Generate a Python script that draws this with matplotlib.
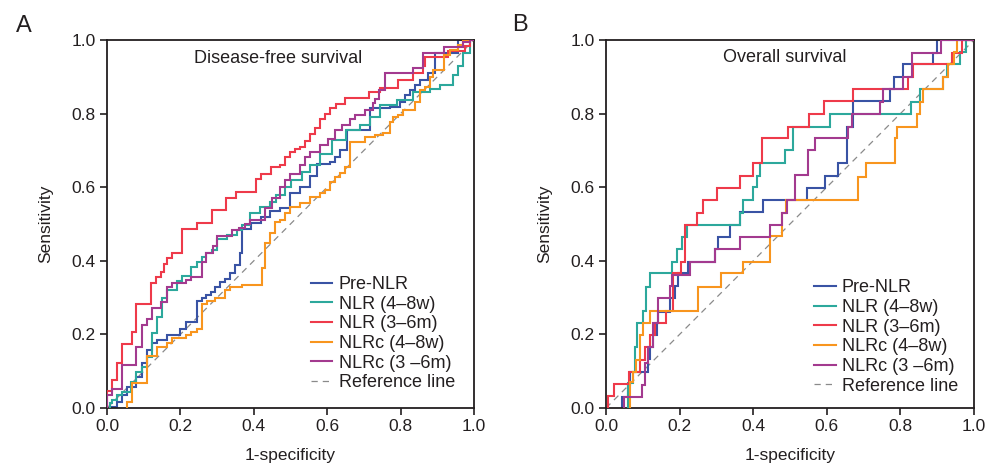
import matplotlib
matplotlib.use("Agg")
import matplotlib.pyplot as plt
from matplotlib.lines import Line2D

plt.rcParams['font.family'] = ['Liberation Sans', 'DejaVu Sans']
TXT = '#231f20'

# ---------------- data ----------------
series_names = ["Pre-NLR", "NLR (4\u20138w)", "NLR (3\u20136m)", "NLRc (4\u20138w)", "NLRc (3 \u20136m)"]
series_colors = ["#3953a4", "#2ca89c", "#ee3a4a", "#f8951e", "#a33a8f"]
ticks = [0.0, 0.2, 0.4, 0.6, 0.8, 1.0]
tick_labels = ["0.0", "0.2", "0.4", "0.6", "0.8", "1.0"]
panel_titles = ["Disease-free survival", "Overall survival"]
panel_letters = ["A", "B"]

# Panel A (disease-free survival): ROC staircase corners (fpr, tpr)
dfs_pre_fpr = [0.0136, 0.0136, 0.026, 0.040, 0.0536, 0.079, 0.0945, 0.108, 0.122, 0.135, 0.163, 0.199, 0.215, 0.2443, 0.258, 0.27, 0.2835, 0.2943, 0.308, 0.3215, 0.335, 0.349, 0.3624, 0.367, 0.392, 0.419, 0.444, 0.4714, 0.499, 0.526, 0.553, 0.571, 0.608, 0.621, 0.635, 0.653, 0.717, 0.771, 0.799, 0.8126, 0.826, 0.839, 0.853, 0.876, 0.894, 0.957, 1.0]
dfs_pre_tpr = [0.0, 0.004, 0.017, 0.035, 0.058, 0.085, 0.123, 0.158, 0.176, 0.185, 0.199, 0.216, 0.235, 0.292, 0.298, 0.307, 0.316, 0.33, 0.343, 0.35, 0.366, 0.389, 0.42, 0.486, 0.502, 0.52, 0.534, 0.543, 0.585, 0.60, 0.63, 0.664, 0.668, 0.682, 0.70, 0.755, 0.814, 0.818, 0.832, 0.85, 0.864, 0.877, 0.891, 0.909, 0.966, 1.0, 1.0]

dfs_nlr48_fpr = [0.008, 0.008, 0.0136, 0.026, 0.040, 0.0645, 0.079, 0.0945, 0.108, 0.1217, 0.135, 0.149, 0.163, 0.19, 0.2035, 0.228, 0.2443, 0.258, 0.27, 0.2852, 0.299, 0.326, 0.353, 0.367, 0.39, 0.417, 0.444, 0.46, 0.485, 0.50, 0.53, 0.553, 0.58, 0.612, 0.65, 0.689, 0.717, 0.744, 0.79, 0.835, 0.88, 0.908, 0.944, 0.957, 0.971, 0.99, 1.0]
dfs_nlr48_tpr = [0.0, 0.013, 0.021, 0.035, 0.044, 0.07, 0.099, 0.112, 0.139, 0.203, 0.246, 0.298, 0.322, 0.346, 0.36, 0.382, 0.398, 0.41, 0.42, 0.429, 0.458, 0.471, 0.484, 0.497, 0.53, 0.547, 0.56, 0.58, 0.60, 0.62, 0.64, 0.66, 0.69, 0.728, 0.755, 0.769, 0.792, 0.823, 0.837, 0.859, 0.868, 0.877, 0.905, 0.928, 0.964, 1.0, 1.0]

dfs_nlr36_fpr = [0.0, 0.0, 0.0136, 0.026, 0.040, 0.067, 0.079, 0.119, 0.133, 0.147, 0.155, 0.163, 0.176, 0.2035, 0.244, 0.2853, 0.3243, 0.3515, 0.406, 0.419, 0.446, 0.4714, 0.485, 0.499, 0.512, 0.526, 0.54, 0.553, 0.567, 0.58, 0.594, 0.608, 0.624, 0.649, 0.715, 0.744, 0.794, 0.835, 0.862, 0.866, 0.93, 0.975, 0.99, 1.0]
dfs_nlr36_tpr = [0.0, 0.045, 0.076, 0.121, 0.174, 0.207, 0.283, 0.34, 0.355, 0.37, 0.39, 0.407, 0.42, 0.486, 0.504, 0.538, 0.571, 0.588, 0.621, 0.636, 0.654, 0.66, 0.683, 0.695, 0.703, 0.71, 0.726, 0.744, 0.76, 0.785, 0.799, 0.815, 0.826, 0.842, 0.86, 0.869, 0.891, 0.911, 0.928, 0.955, 0.97, 0.985, 1.0, 1.0]

dfs_nlrc48_fpr = [0.0536, 0.0536, 0.067, 0.108, 0.135, 0.163, 0.176, 0.215, 0.228, 0.2443, 0.258, 0.272, 0.294, 0.3215, 0.335, 0.367, 0.4214, 0.4305, 0.4441, 0.4578, 0.4714, 0.485, 0.499, 0.526, 0.553, 0.58, 0.594, 0.608, 0.621, 0.635, 0.649, 0.662, 0.703, 0.73, 0.753, 0.771, 0.78, 0.794, 0.807, 0.839, 0.853, 0.866, 0.88, 0.889, 0.917, 0.935, 0.957, 0.971, 1.0]
dfs_nlrc48_tpr = [0.0, 0.017, 0.0685, 0.141, 0.166, 0.177, 0.189, 0.198, 0.207, 0.216, 0.283, 0.292, 0.298, 0.321, 0.328, 0.335, 0.38, 0.4475, 0.475, 0.506, 0.511, 0.529, 0.547, 0.556, 0.574, 0.583, 0.592, 0.615, 0.629, 0.638, 0.656, 0.724, 0.737, 0.742, 0.746, 0.778, 0.79, 0.796, 0.81, 0.832, 0.864, 0.873, 0.90, 0.918, 0.959, 0.973, 0.986, 1.0, 1.0]

dfs_nlrc36_fpr = [0.0, 0.0, 0.0136, 0.040, 0.079, 0.0945, 0.108, 0.1217, 0.147, 0.163, 0.1762, 0.215, 0.228, 0.258, 0.27, 0.29, 0.299, 0.34, 0.36, 0.375, 0.39, 0.4305, 0.45, 0.471, 0.485, 0.499, 0.526, 0.54, 0.553, 0.58, 0.603, 0.621, 0.64, 0.662, 0.676, 0.703, 0.726, 0.73, 0.74, 0.757, 0.835, 0.862, 0.917, 0.971, 0.99, 1.0]
dfs_nlrc36_tpr = [0.0, 0.035, 0.051, 0.117, 0.166, 0.225, 0.241, 0.273, 0.289, 0.328, 0.34, 0.347, 0.355, 0.396, 0.42, 0.44, 0.468, 0.484, 0.49, 0.50, 0.511, 0.543, 0.57, 0.601, 0.619, 0.637, 0.66, 0.683, 0.696, 0.715, 0.732, 0.755, 0.77, 0.784, 0.796, 0.81, 0.828, 0.841, 0.864, 0.909, 0.923, 0.964, 0.982, 0.995, 1.0, 1.0]

# Panel B (overall survival)
os_pre_fpr = [0.043, 0.043, 0.06, 0.064, 0.115, 0.1196, 0.1286, 0.1377, 0.1422, 0.174, 0.1875, 0.1966, 0.2237, 0.296, 0.3053, 0.337, 0.364, 0.4275, 0.545, 0.595, 0.631, 0.6558, 0.672, 0.7717, 0.7826, 0.808, 0.8895, 0.8986, 1.0]
os_pre_tpr = [0.0, 0.031, 0.0625, 0.099, 0.133, 0.167, 0.198, 0.23, 0.262, 0.298, 0.332, 0.366, 0.397, 0.431, 0.466, 0.497, 0.533, 0.565, 0.597, 0.63, 0.665, 0.764, 0.834, 0.866, 0.90, 0.935, 0.966, 1.0, 1.0]

os_nlr48_fpr = [0.06, 0.06, 0.0734, 0.0779, 0.085, 0.1005, 0.1096, 0.1205, 0.1784, 0.192, 0.2056, 0.2192, 0.364, 0.373, 0.40, 0.41, 0.4185, 0.486, 0.509, 0.609, 0.83, 0.853, 0.917, 0.926, 0.962, 0.978, 1.0]
os_nlr48_tpr = [0.0, 0.067, 0.099, 0.165, 0.23, 0.264, 0.33, 0.366, 0.398, 0.431, 0.466, 0.497, 0.529, 0.565, 0.60, 0.63, 0.665, 0.70, 0.764, 0.80, 0.832, 0.866, 0.90, 0.935, 0.967, 1.0, 1.0]

os_nlr36_fpr = [0.005, 0.005, 0.023, 0.062, 0.0915, 0.105, 0.1187, 0.1322, 0.164, 0.182, 0.205, 0.2147, 0.2464, 0.2645, 0.3007, 0.364, 0.4004, 0.423, 0.4955, 0.5527, 0.5924, 0.672, 0.82, 0.8333, 0.94, 0.968, 1.0]
os_nlr36_tpr = [0.0, 0.033, 0.065, 0.099, 0.13, 0.165, 0.198, 0.232, 0.264, 0.366, 0.398, 0.497, 0.531, 0.564, 0.597, 0.631, 0.665, 0.733, 0.764, 0.80, 0.834, 0.866, 0.90, 0.935, 0.966, 1.0, 1.0]

os_nlrc48_fpr = [0.0643, 0.0643, 0.0734, 0.0824, 0.0915, 0.1005, 0.1187, 0.25, 0.3134, 0.3723, 0.4447, 0.4774, 0.49, 0.686, 0.706, 0.7853, 0.79, 0.8442, 0.853, 0.862, 0.917, 0.93, 0.945, 0.955, 1.0]
os_nlrc48_tpr = [0.0, 0.0716, 0.0988, 0.13, 0.198, 0.23, 0.264, 0.33, 0.366, 0.398, 0.467, 0.529, 0.565, 0.628, 0.666, 0.733, 0.764, 0.80, 0.832, 0.866, 0.90, 0.935, 0.967, 1.0, 1.0]

os_nlrc36_fpr = [0.05, 0.05, 0.097, 0.106, 0.115, 0.128, 0.1422, 0.174, 0.178, 0.2283, 0.296, 0.364, 0.4457, 0.4774, 0.4909, 0.514, 0.55, 0.568, 0.6585, 0.6676, 0.745, 0.7536, 0.808, 0.8306, 0.91, 1.0]
os_nlrc36_tpr = [0.0, 0.031, 0.0625, 0.121, 0.167, 0.23, 0.298, 0.332, 0.362, 0.397, 0.431, 0.466, 0.497, 0.529, 0.565, 0.633, 0.701, 0.733, 0.764, 0.80, 0.832, 0.866, 0.90, 0.966, 1.0, 1.0]

panels = [
    [(dfs_pre_fpr, dfs_pre_tpr), (dfs_nlr48_fpr, dfs_nlr48_tpr), (dfs_nlr36_fpr, dfs_nlr36_tpr),
     (dfs_nlrc48_fpr, dfs_nlrc48_tpr), (dfs_nlrc36_fpr, dfs_nlrc36_tpr)],
    [(os_pre_fpr, os_pre_tpr), (os_nlr48_fpr, os_nlr48_tpr), (os_nlr36_fpr, os_nlr36_tpr),
     (os_nlrc48_fpr, os_nlrc48_tpr), (os_nlrc36_fpr, os_nlrc36_tpr)],
]

# ---------------- figure ----------------
W, H = 987, 465
fig = plt.figure(figsize=(W / 100, H / 100), dpi=100)
axes_px = [(107, 367), (606, 368)]   # left, width in px
bottom_px, height_px = 408, 368
legend_anchor = [(0.555, 0.045), (0.565, 0.036)]
title_pos = [(0.465, 0.951), (0.485, 0.952)]
letter_pos = [(24, 26), (520, 25)]

for i, (lx, wx) in enumerate(axes_px):
    ax = fig.add_axes([lx / W, 1 - bottom_px / H, wx / W, height_px / H])
    # reference line
    ax.plot([0, 1], [0, 1], ls=(0, (5, 4)), color='#8a8a8a', lw=0.9, zorder=1)
    order = [3, 4, 1, 0, 2]
    for k in order:
        fx, ty = panels[i][k]
        ax.plot(fx, ty, drawstyle='steps-post', color=series_colors[k], lw=1.5, zorder=2 + k,
                solid_joinstyle='miter')
    ax.set_xlim(0, 1)
    ax.set_ylim(0, 1)
    ax.set_xticks(ticks)
    ax.set_yticks(ticks)
    ax.set_xticklabels(tick_labels)
    ax.set_yticklabels(tick_labels)
    ax.tick_params(direction='out', length=5, width=1.2, labelsize=12.5, colors=TXT, pad=3)
    for s in ax.spines.values():
        s.set_linewidth(1.3)
        s.set_color(TXT)
    ax.set_xlabel("1-specificity", fontsize=12.5, color=TXT, labelpad=10)
    ax.set_ylabel("Sensitivity", fontsize=12.5, color=TXT, labelpad=13)
    tx, ty_ = title_pos[i]
    ax.text(tx, ty_, panel_titles[i], transform=ax.transAxes, ha='center', va='center',
            fontsize=13, color=TXT)
    handles = [Line2D([0], [0], color=c, lw=1.5) for c in series_colors]
    handles.append(Line2D([0], [0], color='#8a8a8a', lw=0.9, ls=(0, (5, 4))))
    labels = series_names + ["Reference line"]
    leg = ax.legend(handles, labels, loc='lower left', bbox_to_anchor=legend_anchor[i],
                    frameon=False, fontsize=13, handlelength=1.2, handletextpad=0.35,
                    labelspacing=0.15, borderpad=0, borderaxespad=0)
    for t in leg.get_texts():
        t.set_color(TXT)
    px, py = letter_pos[i]
    fig.text(px / W, 1 - py / H, panel_letters[i], fontsize=17, color=TXT,
             ha='center', va='center')

fig.savefig("out.png", dpi=100)
